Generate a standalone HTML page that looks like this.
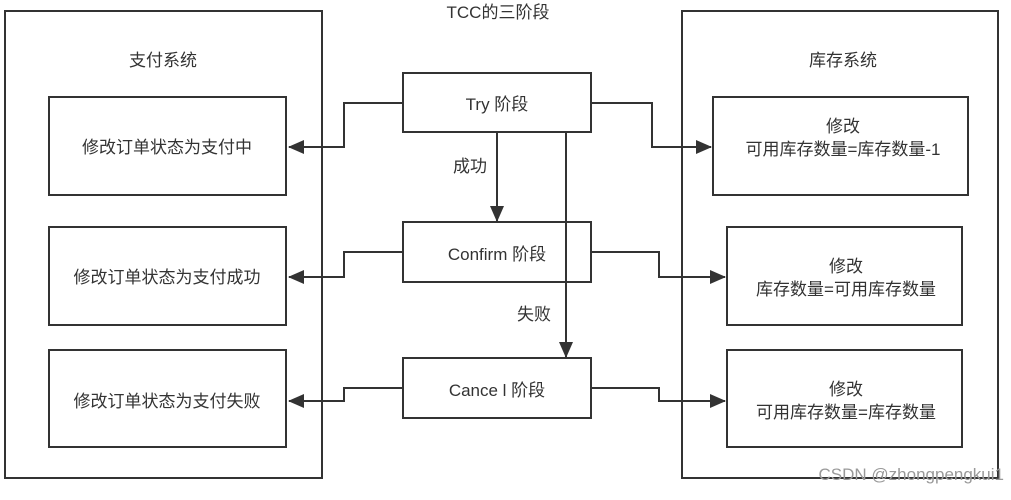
<!DOCTYPE html>
<html><head><meta charset="utf-8"><style>
html,body{margin:0;padding:0;background:#fff;}
svg text{font-family:"Liberation Sans","Noto Sans CJK SC",sans-serif;fill:#333;font-size:17px;}
</style></head><body>
<svg width="1011" height="495" xmlns="http://www.w3.org/2000/svg">
<defs><marker id="b" markerWidth="16" markerHeight="14" refX="15" refY="7" orient="auto" markerUnits="userSpaceOnUse"><path d="M0,0 L16,7 L0,14 z" fill="#333"/></marker></defs>
<g fill="none" stroke="#333" stroke-width="2">
<rect x="5" y="11" width="317" height="467"/>
<rect x="682" y="11" width="316" height="467"/>
<rect x="49" y="97" width="237" height="98"/>
<rect x="49" y="227" width="237" height="98"/>
<rect x="49" y="350" width="237" height="97"/>
<rect x="713" y="97" width="255" height="98"/>
<rect x="727" y="227" width="235" height="98"/>
<rect x="727" y="350" width="235" height="97"/>
<rect x="403" y="73" width="188" height="59"/>
<rect x="403" y="222" width="188" height="60"/>
<rect x="403" y="358" width="188" height="60"/>
<polyline points="403,103 344,103 344,147 289,147" marker-end="url(#b)"/>
<polyline points="591,103 652,103 652,147 711,147" marker-end="url(#b)"/>
<polyline points="403,252 344,252 344,277 289,277" marker-end="url(#b)"/>
<polyline points="591,252 659,252 659,277 725,277" marker-end="url(#b)"/>
<polyline points="403,388 344,388 344,401 289,401" marker-end="url(#b)"/>
<polyline points="591,388 659,388 659,401 725,401" marker-end="url(#b)"/>
<line x1="497" y1="132" x2="497" y2="221" marker-end="url(#b)"/>
<line x1="566" y1="132" x2="566" y2="357" marker-end="url(#b)"/>
</g>
<text x="498" y="18" text-anchor="middle" font-size="16">TCC的三阶段</text>
<text x="163" y="66" text-anchor="middle" font-size="18">支付系统</text>
<text x="843" y="66" text-anchor="middle" font-size="18">库存系统</text>
<text x="497" y="110" text-anchor="middle">Try 阶段</text>
<text x="497" y="260" text-anchor="middle">Confirm 阶段</text>
<text x="497" y="396" text-anchor="middle">Cance l 阶段</text>
<text x="470" y="172" text-anchor="middle">成功</text>
<text x="534" y="320" text-anchor="middle">失败</text>
<text x="167" y="153" text-anchor="middle" font-size="18">修改订单状态为支付中</text>
<text x="167" y="283" text-anchor="middle" font-size="18">修改订单状态为支付成功</text>
<text x="167" y="407" text-anchor="middle" font-size="18">修改订单状态为支付失败</text>
<text x="843" y="132" text-anchor="middle" font-size="18">修改</text>
<text x="843" y="155" text-anchor="middle" font-size="18">可用库存数量=库存数量-1</text>
<text x="846" y="272" text-anchor="middle" font-size="18">修改</text>
<text x="846" y="295" text-anchor="middle" font-size="18">库存数量=可用库存数量</text>
<text x="846" y="395" text-anchor="middle" font-size="18">修改</text>
<text x="846" y="418" text-anchor="middle" font-size="18">可用库存数量=库存数量</text>
<text x="1004" y="480" text-anchor="end" font-size="14" style="fill:#999">CSDN @zhongpengkui1</text>
</svg>
</body></html>
